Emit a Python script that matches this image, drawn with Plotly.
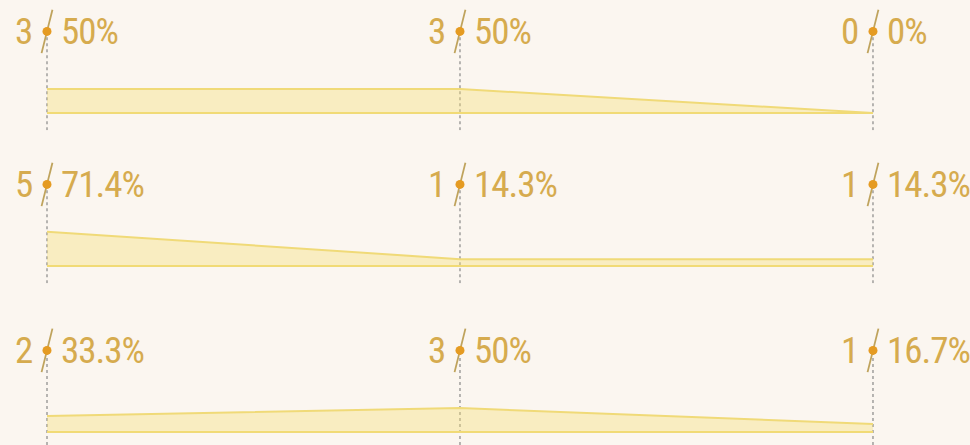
import plotly.graph_objects as go
from plotly.subplots import make_subplots

# ---- data ----
stages = ["A", "B", "C"]
row1_counts = [3, 3, 0]
row1_pcts = [50, 50, 0]
row2_counts = [5, 1, 1]
row2_pcts = [71.4, 14.3, 14.3]
row3_counts = [2, 3, 1]
row3_pcts = [33.3, 50, 16.7]
rows_counts = [row1_counts, row2_counts, row3_counts]
rows_pcts = [row1_pcts, row2_pcts, row3_pcts]

# ---- style ----
BG = "#FBF6F0"
TEXT_C = "#D6AB4E"
DOT_C = "#E59B22"
SLASH_C = "#BFA35C"
LINE_C = "#F0DA78"
FILL_C = "rgba(246,222,110,0.36)"
DASH_C = "#7E7E7E"
FONT = "Roboto"
SPAN = '<span style="font-stretch:75%;letter-spacing:-1px">{}</span>'
LABEL_Y = 170

fig = make_subplots(rows=3, cols=1, shared_xaxes=True, vertical_spacing=0.02)

xs = list(range(len(stages)))
domains = [[0.7072, 0.9402], [0.3634, 0.5964], [0.0, 0.2234]]
yranges = [[-36, 180], [-36, 180], [-27, 180]]

for r in range(3):
    pcts = rows_pcts[r]
    counts = rows_counts[r]
    row = r + 1
    for i in xs:
        fig.add_trace(go.Scatter(x=[i, i], y=[yranges[r][0], LABEL_Y], mode="lines",
                                 line=dict(color=DASH_C, width=1.1, dash="3px,3px"),
                                 hoverinfo="skip", showlegend=False), row=row, col=1)
    fig.add_trace(go.Scatter(x=xs, y=[0] * len(xs), mode="lines",
                             line=dict(color=LINE_C, width=2),
                             hoverinfo="skip", showlegend=False), row=row, col=1)
    fig.add_trace(go.Scatter(x=xs, y=pcts, mode="lines", fill="tozeroy",
                             fillcolor=FILL_C, line=dict(color=LINE_C, width=2),
                             hoverinfo="skip", showlegend=False), row=row, col=1)
    fig.add_trace(go.Scatter(x=xs, y=[LABEL_Y] * len(xs), mode="markers", cliponaxis=False,
                             marker=dict(symbol="line-ns", size=32, angle=14,
                                         line=dict(color=SLASH_C, width=1.8)),
                             hoverinfo="skip", showlegend=False), row=row, col=1)
    fig.add_trace(go.Scatter(x=xs, y=[LABEL_Y] * len(xs), mode="markers", cliponaxis=False,
                             marker=dict(symbol="circle", size=9, color=DOT_C),
                             hoverinfo="skip", showlegend=False), row=row, col=1)
    yref = "y" if r == 0 else f"y{row}"
    for i in xs:
        fig.add_annotation(x=i, y=LABEL_Y, xref="x", yref=yref,
                           text=SPAN.format(counts[i]),
                           showarrow=False, xanchor="right", yanchor="middle", xshift=-13,
                           font=dict(family=FONT, size=37, color=TEXT_C))
        fig.add_annotation(x=i, y=LABEL_Y, xref="x", yref=yref,
                           text=SPAN.format(f"{pcts[i]:g}%"),
                           showarrow=False, xanchor="left", yanchor="middle", xshift=12,
                           font=dict(family=FONT, size=37, color=TEXT_C))

fig.update_xaxes(range=[-0.1138, 2.2349], visible=False, showgrid=False, zeroline=False)
for r in range(3):
    key = "yaxis" if r == 0 else f"yaxis{r+1}"
    fig.layout[key].update(domain=domains[r], range=yranges[r], visible=False,
                           showgrid=False, zeroline=False)

fig.update_layout(width=970, height=445, margin=dict(l=0, r=0, t=0, b=0),
                  paper_bgcolor=BG, plot_bgcolor=BG, hovermode=False)

fig.write_html("out.html", config={"displayModeBar": False},
               post_script="document.body.style.margin='0';")
